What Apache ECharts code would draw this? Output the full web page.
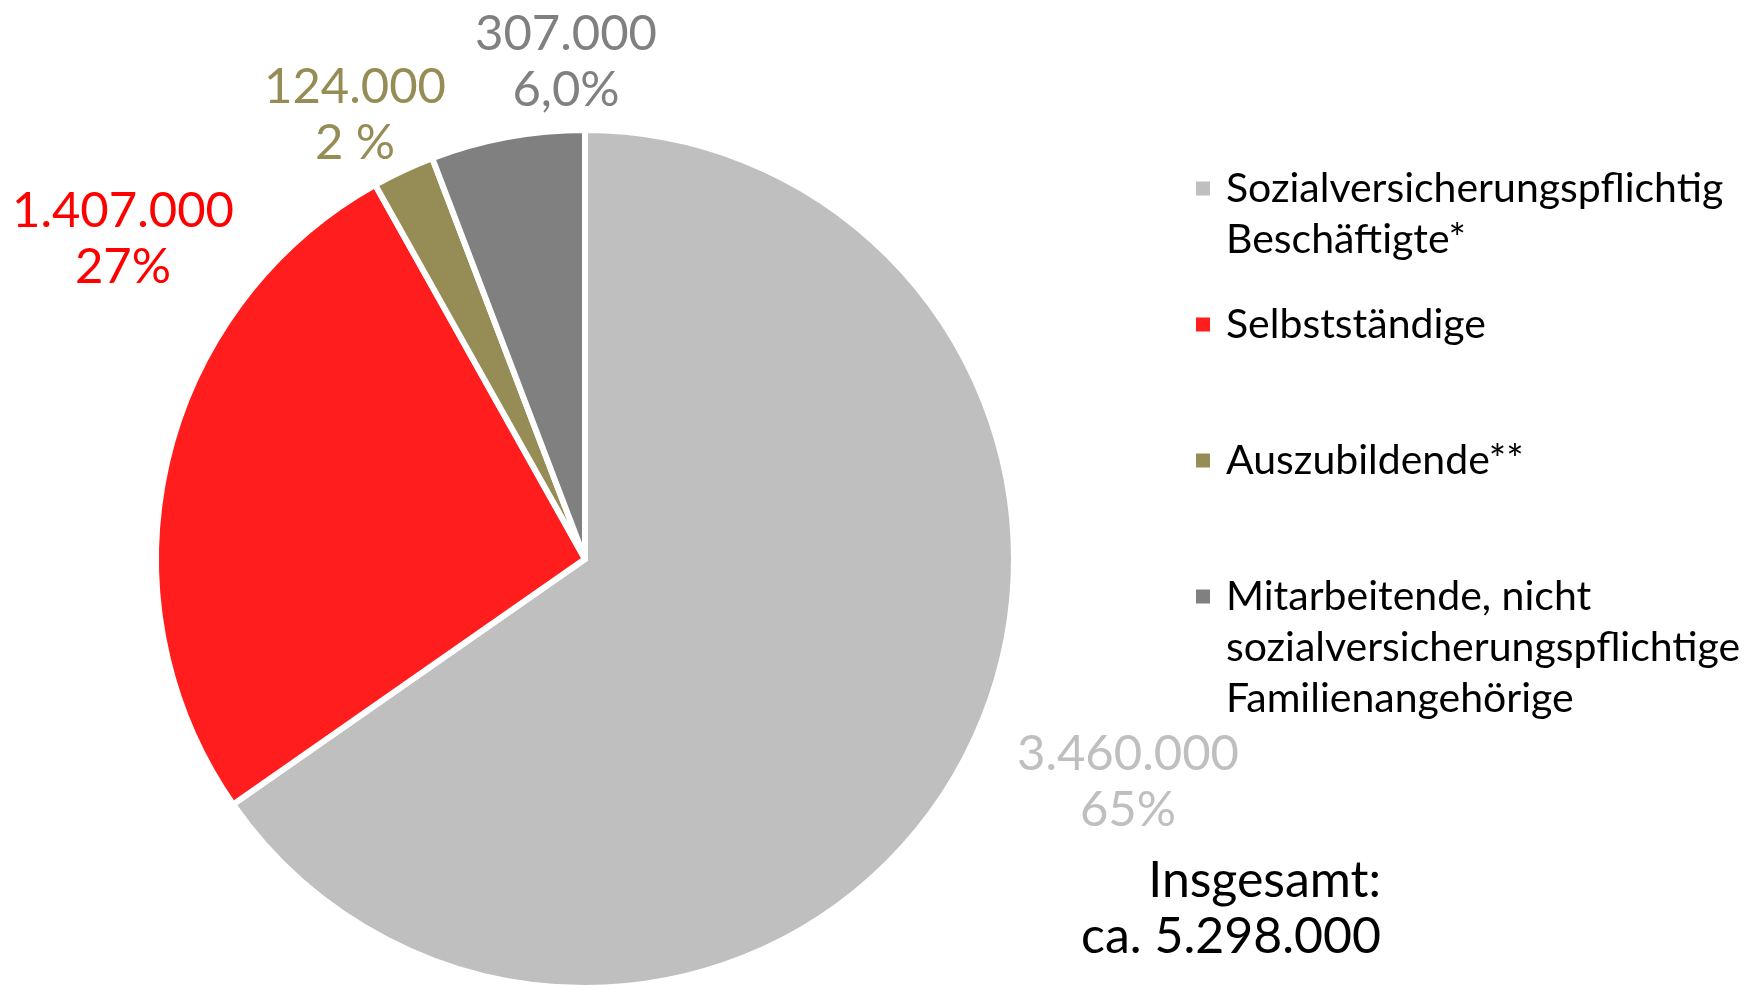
<!DOCTYPE html>
<html>
<head>
<meta charset="utf-8">
<script src="https://cdn.jsdelivr.net/npm/echarts@6.0.0/dist/echarts.min.js"></script>
<style>
    html, body { margin: 0; padding: 0; background: #fff; }
    #main { width: 1754px; height: 985px; }
</style>
</head>
<body>
<div id="main"></div>
<script>
var categories = [
    'Sozialversicherungspflichtig\nBeschäftigte*',
    'Selbstständige',
    'Auszubildende**',
    'Mitarbeitende, nicht\nsozialversicherungspflichtige\nFamilienangehörige'
];
var values = [3460000, 1407000, 124000, 307000];
var percentLabels = ['65%', '27%', '2 %', '6,0%'];
var sliceColors = ['#BFBFBF', '#FF1D1D', '#968C56', '#808080'];
var labelColors = ['#BFBFBF', '#FF0000', '#968C56', '#808080'];

var FONT = 'Lato, "Noto Sans", sans-serif';
// label centres and legend marker rows (layout only)
var labelPos = [[1128, 782], [123, 239], [355, 115], [566, 62]];
var legendRows = [188, 324, 460, 596];

window.onload = function () {
    var myChart = echarts.init(document.getElementById('main'));

    function formatNum(v) {
        return String(v).replace(/\B(?=(\d{3})+(?!\d))/g, '.');
    }

    var total = values.reduce(function (a, b) { return a + b; }, 0);

    var pieData = categories.map(function (name, i) {
        return {
            name: name,
            value: values[i],
            itemStyle: { color: sliceColors[i] },
            label: { color: labelColors[i] }
        };
    });

    var rich = {
        t: { fontSize: 41, lineHeight: 51, fontFamily: FONT, color: '#000' },
        g: { width: 16 },
        s: { width: 30 }
    };
    sliceColors.forEach(function (c, i) {
        rich['m' + i] = { width: 14, height: 14, backgroundColor: c };
    });

    var legends = categories.map(function (name, i) {
        return {
            data: [name],
            left: 1191,
            top: legendRows[i] - 25,
            padding: 0,
            icon: 'none',
            itemWidth: 0,
            itemHeight: 0,
            selectedMode: false,
            textStyle: { fontSize: 41, lineHeight: 51, fontFamily: FONT, color: '#000', rich: rich },
            formatter: function (n) {
                var idx = categories.indexOf(n);
                return n.split('\n').map(function (line, k) {
                    return (k === 0 ? '{m' + idx + '| }{g| }' : '{s| }') + '{t|' + line + '}';
                }).join('\n');
            }
        };
    });

    var option = {
        animation: false,
        backgroundColor: '#fff',
        title: {
            text: 'Insgesamt:\nca. ' + formatNum(total),
            left: 1381,
            top: 853,
            padding: 0,
            textAlign: 'right',
            textStyle: { fontSize: 50, lineHeight: 56, fontWeight: 'normal', fontFamily: FONT, color: '#000' }
        },
        legend: legends,
        series: [{
            type: 'pie',
            center: [585, 559],
            radius: 429,
            startAngle: 90,
            clockwise: true,
            avoidLabelOverlap: false,
            itemStyle: { borderColor: '#fff', borderWidth: 6 },
            emphasis: { disabled: true },
            labelLine: { show: false },
            label: {
                show: true,
                position: 'outside',
                fontSize: 49,
                lineHeight: 56,
                fontFamily: FONT,
                formatter: function (p) {
                    return formatNum(p.value) + '\n' + percentLabels[p.dataIndex];
                }
            },
            labelLayout: function (params) {
                var p = labelPos[params.dataIndex];
                return { x: p[0], y: p[1], align: 'center', verticalAlign: 'middle' };
            },
            data: pieData
        }]
    };

    myChart.setOption(option);
};
</script>
</body>
</html>
